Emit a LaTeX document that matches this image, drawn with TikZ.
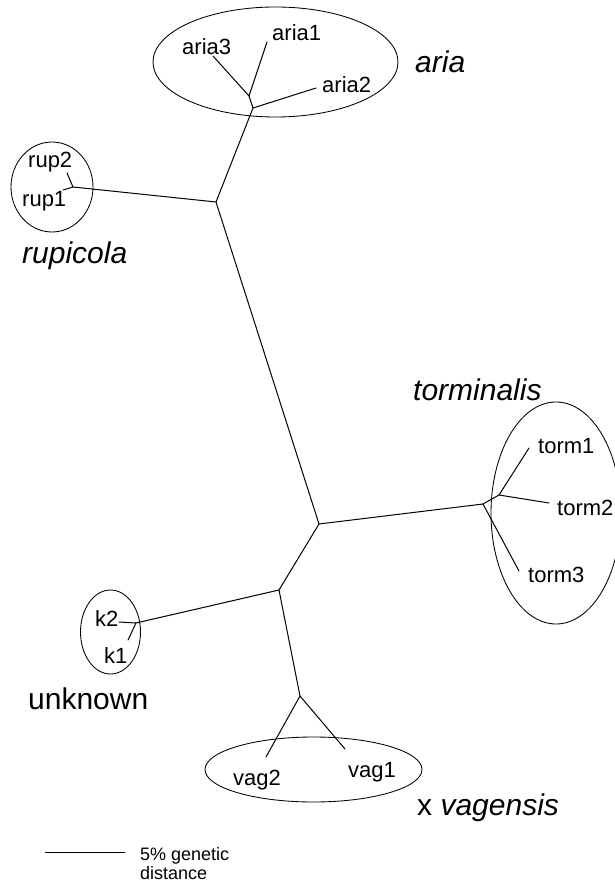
\documentclass[tikz,border=0pt]{standalone}
\usepackage{fontspec}
\setmainfont{Liberation Sans}
\usetikzlibrary{shapes.geometric}
\begin{document}
\begin{tikzpicture}[x=1pt,y=-1pt,
  branch/.style={line width=1pt, line cap=round, line join=round},
  clade/.style={draw, ellipse, line width=0.85pt, inner sep=0pt},
  leaf/.style={anchor=base west, inner sep=0pt, font=\fontsize{22}{22}\selectfont},
  taxon/.style={anchor=base west, inner sep=0pt, font=\fontsize{30}{30}\selectfont\itshape},
  note/.style={anchor=base west, inner sep=0pt, font=\fontsize{18}{18}\selectfont}]
\useasboundingbox (0,0) rectangle (614,885);

% clade outlines
\node[clade, minimum width=245pt, minimum height=110pt] (ariaC) at (275.5,62) {};
\node[clade, minimum width=82pt, minimum height=90pt] (rupC) at (52,187) {};
\node[clade, minimum width=130pt, minimum height=222pt] (tormC) at (556,513) {};
\node[clade, minimum width=60pt, minimum height=84pt] (kC) at (110.5,632) {};
\node[clade, minimum width=217pt, minimum height=65pt] (vagC) at (313.5,769.5) {};

% tree vertices and tips
\coordinate (a3) at (213,56);
\coordinate (a1) at (267,42);
\coordinate (A1) at (249,96);
\coordinate (A2) at (253,108);
\coordinate (a2) at (316,88);
\coordinate (R) at (216,202);
\coordinate (r2) at (67,173);
\coordinate (r1) at (63,190);
\coordinate (Rj) at (73,187);
\coordinate (C) at (319,524);
\coordinate (T1) at (483,504);
\coordinate (T2) at (499,495);
\coordinate (t1) at (529,448);
\coordinate (t2) at (549,503);
\coordinate (t3) at (519,571);
\coordinate (L) at (279,590);
\coordinate (K) at (136,623);
\coordinate (k2) at (119,622);
\coordinate (k1) at (128,640);
\coordinate (V) at (300,696);
\coordinate (v2) at (266,757);
\coordinate (v1) at (345,749);

% branches
\draw[branch] (a3) -- (A1) -- (a1);
\draw[branch] (A1) -- (A2) -- (a2);
\draw[branch] (A2) -- (R) -- (Rj);
\draw[branch] (r2) -- (Rj) -- (r1);
\draw[branch] (R) -- (C) -- (T1) -- (T2) -- (t1);
\draw[branch] (T2) -- (t2);
\draw[branch] (T1) -- (t3);
\draw[branch] (C) -- (L) -- (K);
\draw[branch] (k2) -- (K) -- (k1);
\draw[branch] (L) -- (V) -- (v2);
\draw[branch] (V) -- (v1);

% tip labels
\node[leaf] (la3) at (182,55) {aria3};
\node[leaf] (la1) at (272,41) {aria1};
\node[leaf] (la2) at (322,93) {aria2};
\node[leaf] (lr2) at (28,168) {rup2};
\node[leaf] (lr1) at (22,207) {rup1};
\node[leaf] (lt1) at (538,453) {torm1};
\node[leaf] (lt2) at (557,515) {torm2};
\node[leaf] (lt3) at (528,582) {torm3};
\node[leaf] (lk2) at (95,626) {k2};
\node[leaf] (lk1) at (104,663) {k1};
\node[leaf] (lv2) at (233,785) {vag2};
\node[leaf] (lv1) at (348,777) {vag1};

% group names
\node[taxon] (naria) at (415,73) {aria};
\node[taxon] (nrup) at (22,263) {rupicola};
\node[taxon] (ntorm) at (413,400) {torminalis};
\node[anchor=base west, inner sep=0pt, font=\fontsize{30}{30}\selectfont] (nunk) at (28,709) {unknown};
\node[anchor=base west, inner sep=0pt, font=\fontsize{30}{30}\selectfont] (nvag) at (417,815) {x \textit{vagensis}};

% scale bar
\coordinate (s0) at (45,852);
\coordinate (s1) at (125,852);
\draw[line width=1pt] (s0) -- (s1);
\node[note] (sc1) at (140,860) {5\% genetic};
\node[note] (sc2) at (140,879) {distance};
\end{tikzpicture}
\end{document}
